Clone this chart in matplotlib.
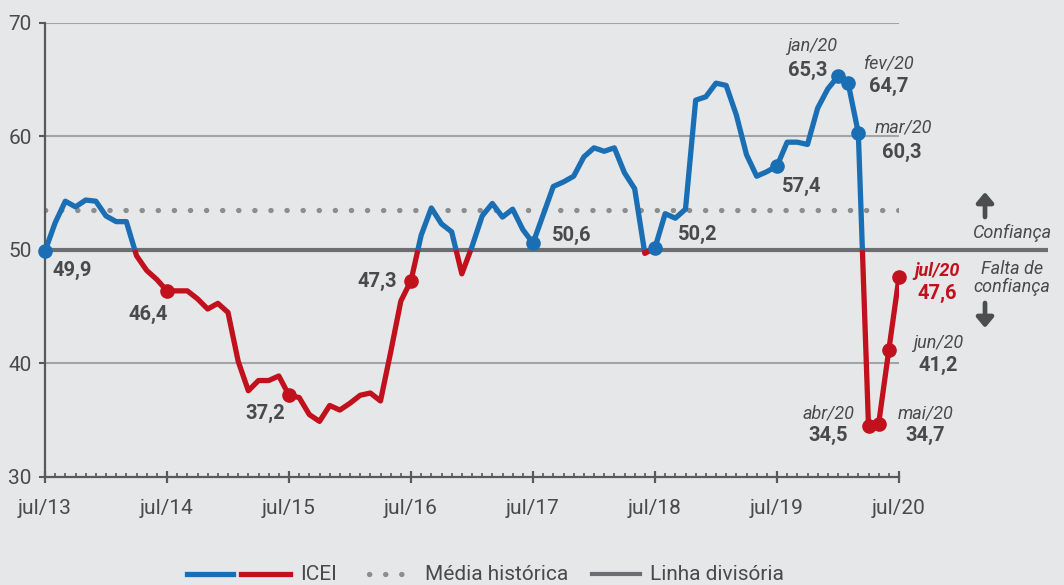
import matplotlib
matplotlib.use("Agg")
import matplotlib.pyplot as plt
from matplotlib.lines import Line2D
import numpy as np

plt.rcParams['font.family'] = ['Roboto', 'DejaVu Sans']

# ---------------- data ----------------
tick_labels = ["jul/13", "jul/14", "jul/15", "jul/16", "jul/17", "jul/18", "jul/19", "jul/20"]
icei = [
    49.9, 52.4, 54.3, 53.8, 54.4, 54.3, 53.0, 52.5, 52.5, 49.5, 48.2, 47.4,   # jul/13 - jun/14
    46.4, 46.4, 46.4, 45.7, 44.8, 45.3, 44.5, 40.2, 37.6, 38.5, 38.5, 38.9,   # jul/14 - jun/15
    37.2, 37.0, 35.5, 34.9, 36.3, 35.9, 36.5, 37.2, 37.4, 36.7, 41.0, 45.5,   # jul/15 - jun/16
    47.3, 51.3, 53.7, 52.3, 51.6, 47.9, 50.3, 53.0, 54.1, 52.9, 53.6, 51.8,   # jul/16 - jun/17
    50.6, 53.1, 55.6, 56.0, 56.5, 58.2, 59.0, 58.7, 59.0, 56.8, 55.4, 49.7,   # jul/17 - jun/18
    50.2, 53.2, 52.8, 53.6, 63.2, 63.5, 64.7, 64.5, 61.9, 58.4, 56.5, 56.9,   # jul/18 - jun/19
    57.4, 59.5, 59.5, 59.3, 62.5, 64.2, 65.3, 64.7, 60.3, 34.5, 34.7, 41.2,   # jul/19 - jun/20
    47.6,                                                                     # jul/20
]
media_historica = 53.5
linha_divisoria = 50.0

# highlighted points: (index, value label, month label)
highlights = [
    (0, "49,9", None), (12, "46,4", None), (24, "37,2", None), (36, "47,3", None),
    (48, "50,6", None), (60, "50,2", None), (72, "57,4", None),
    (78, "65,3", "jan/20"), (79, "64,7", "fev/20"), (80, "60,3", "mar/20"),
    (81, "34,5", "abr/20"), (82, "34,7", "mai/20"), (83, "41,2", "jun/20"),
    (84, "47,6", "jul/20"),
]

# ---------------- style ----------------
BLUE = "#1a6eb4"
RED = "#c0111c"
BG = "#e6e7e9"
GRID = "#a3a4a6"
DARK = "#58595b"
TXT = "#4a4a4c"
DIV = "#6d6e71"
DOT = "#8c8d8f"

W, H = 1064, 585
fig = plt.figure(figsize=(W / 100, H / 100), dpi=100, facecolor=BG)
L, R, T, B = 45, 899, 23, 477
ax = fig.add_axes([L / W, 1 - B / H, (R - L) / W, (B - T) / H], facecolor=BG)

n = len(icei)
x = np.arange(n)
y = np.array(icei)
ax.set_xlim(0, n - 1)
ax.set_ylim(30, 70)

# grid lines
for g in (40, 60, 70):
    ax.axhline(g, color=GRID, lw=1.5, zorder=1)

# media historica (dotted)
ax.plot([0, n - 1], [media_historica] * 2, color=DOT, lw=3.8,
        linestyle=(0, (0.05, 3.0)), dash_capstyle='round', zorder=2)

# linha divisoria extends beyond axes
ext = (1048 - L) / (R - L)
ax.plot([0, ext], [linha_divisoria] * 2, color=DIV, lw=3.0,
        transform=ax.get_yaxis_transform(), clip_on=False, zorder=2,
        solid_capstyle='butt')

# colored line split at 50
def runs(xs, ys, thr):
    out = []
    cur_x, cur_y = [xs[0]], [ys[0]]
    cur_above = ys[0] >= thr
    for i in range(1, len(xs)):
        above = ys[i] >= thr
        if above != cur_above:
            t = (thr - ys[i - 1]) / (ys[i] - ys[i - 1])
            xc = xs[i - 1] + t * (xs[i] - xs[i - 1])
            cur_x.append(xc); cur_y.append(thr)
            out.append((cur_above, cur_x, cur_y))
            cur_x, cur_y = [xc], [thr]
            cur_above = above
        cur_x.append(xs[i]); cur_y.append(ys[i])
    out.append((cur_above, cur_x, cur_y))
    return out

for above, xs, ys in runs(x, y, linha_divisoria):
    ax.plot(xs, ys, color=BLUE if above else RED, lw=3.8,
            solid_joinstyle='round', solid_capstyle='butt', zorder=4)

# markers and labels
num_off = {0: (27, -19), 12: (-19, -24), 24: (-24, -18), 36: (-34, -1),
           48: (39, 8), 60: (43, 13), 72: (25, -20),
           78: (-30, 6), 79: (41, -3), 80: (43, -19), 81: (-40, -10),
           82: (47, -12), 83: (49, -16), 84: (38, -16)}
mon_off = {78: (-26, 30), 79: (41, 20), 80: (45, 6), 81: (-40, 12),
           82: (47, 10), 83: (49, 7), 84: (38, 6)}

for idx, lab, mon in highlights:
    v = icei[idx]
    col = BLUE if round(v) >= 50 else RED
    ax.plot(idx, v, 'o', ms=9.5, color=col, mec=col, zorder=5, clip_on=False)
    tcol = RED if idx == n - 1 else TXT
    ax.annotate(lab, (idx, v), xytext=num_off[idx], textcoords='offset pixels',
                ha='center', va='center', fontsize=14.5, fontweight='bold',
                color=tcol, zorder=6, annotation_clip=False)
    if mon:
        ax.annotate(mon, (idx, v), xytext=mon_off[idx], textcoords='offset pixels',
                    ha='center', va='center', fontsize=13, fontstyle='italic',
                    fontweight='bold' if idx == n - 1 else 'normal',
                    color=tcol, zorder=6, annotation_clip=False)

# axes styling
for s in ('top', 'right'):
    ax.spines[s].set_visible(False)
for s in ('left', 'bottom'):
    ax.spines[s].set_color(DARK)
    ax.spines[s].set_linewidth(1.6)
ax.spines['left'].set_zorder(3)

ax.set_yticks([30, 40, 50, 60, 70])
ax.set_yticklabels(["30", "40", "50", "60", "70"])
ax.tick_params(axis='y', direction='out', length=4.5, width=1.5, color=DARK,
               labelsize=15, labelcolor=TXT, pad=5)
ax.set_xticks(np.arange(0, n, 12))
ax.set_xticklabels(tick_labels)
ax.set_xticks(np.arange(n), minor=True)
ax.tick_params(axis='x', which='major', direction='inout', length=8, width=1.6,
               color=DARK, labelsize=15, labelcolor=TXT, pad=12)
ax.tick_params(axis='x', which='minor', direction='in', length=3, width=1.2, color=DARK)

# right-side annotations
fp = lambda px, py: (px, H - py)
fig.text(1012 / W, 1 - 233 / H, "Confiança", ha='center', va='center',
         fontsize=13, fontstyle='italic', color=TXT)
fig.text(1012 / W, 1 - 278 / H, "Falta de\nconfiança", ha='center', va='center',
         fontsize=13, fontstyle='italic', color=TXT, linespacing=0.95)
arrow_kw = dict(arrowstyle='-|>,head_width=0.5,head_length=0.6', lw=3.4,
                color="#4d4d4f", shrinkA=0, shrinkB=0)
ax.annotate('', xy=fp(985, 192), xytext=fp(985, 217), xycoords='figure pixels',
            textcoords='figure pixels', arrowprops=arrow_kw, annotation_clip=False)
ax.annotate('', xy=fp(985, 328), xytext=fp(985, 303), xycoords='figure pixels',
            textcoords='figure pixels', arrowprops=arrow_kw, annotation_clip=False)

# legend (manual)
ly = 1 - 574 / H
def fline(x0, x1, **kw):
    fig.add_artist(Line2D([x0 / W, x1 / W], [ly, ly], transform=fig.transFigure, **kw))
fline(187, 233, color=BLUE, lw=3.8)
fline(241, 290, color=RED, lw=3.8)
fline(369, 416, color=DOT, lw=3.8, linestyle=(0, (0.05, 3.0)), dash_capstyle='round')
fline(592, 640, color=DIV, lw=3.0)
for tx, t in ((300, "ICEI"), (425, "Média histórica"), (650, "Linha divisória")):
    fig.text(tx / W, 1 - 580 / H, t, ha='left', va='baseline', fontsize=15, color=TXT)

fig.savefig("out.png", dpi=100, facecolor=BG)
